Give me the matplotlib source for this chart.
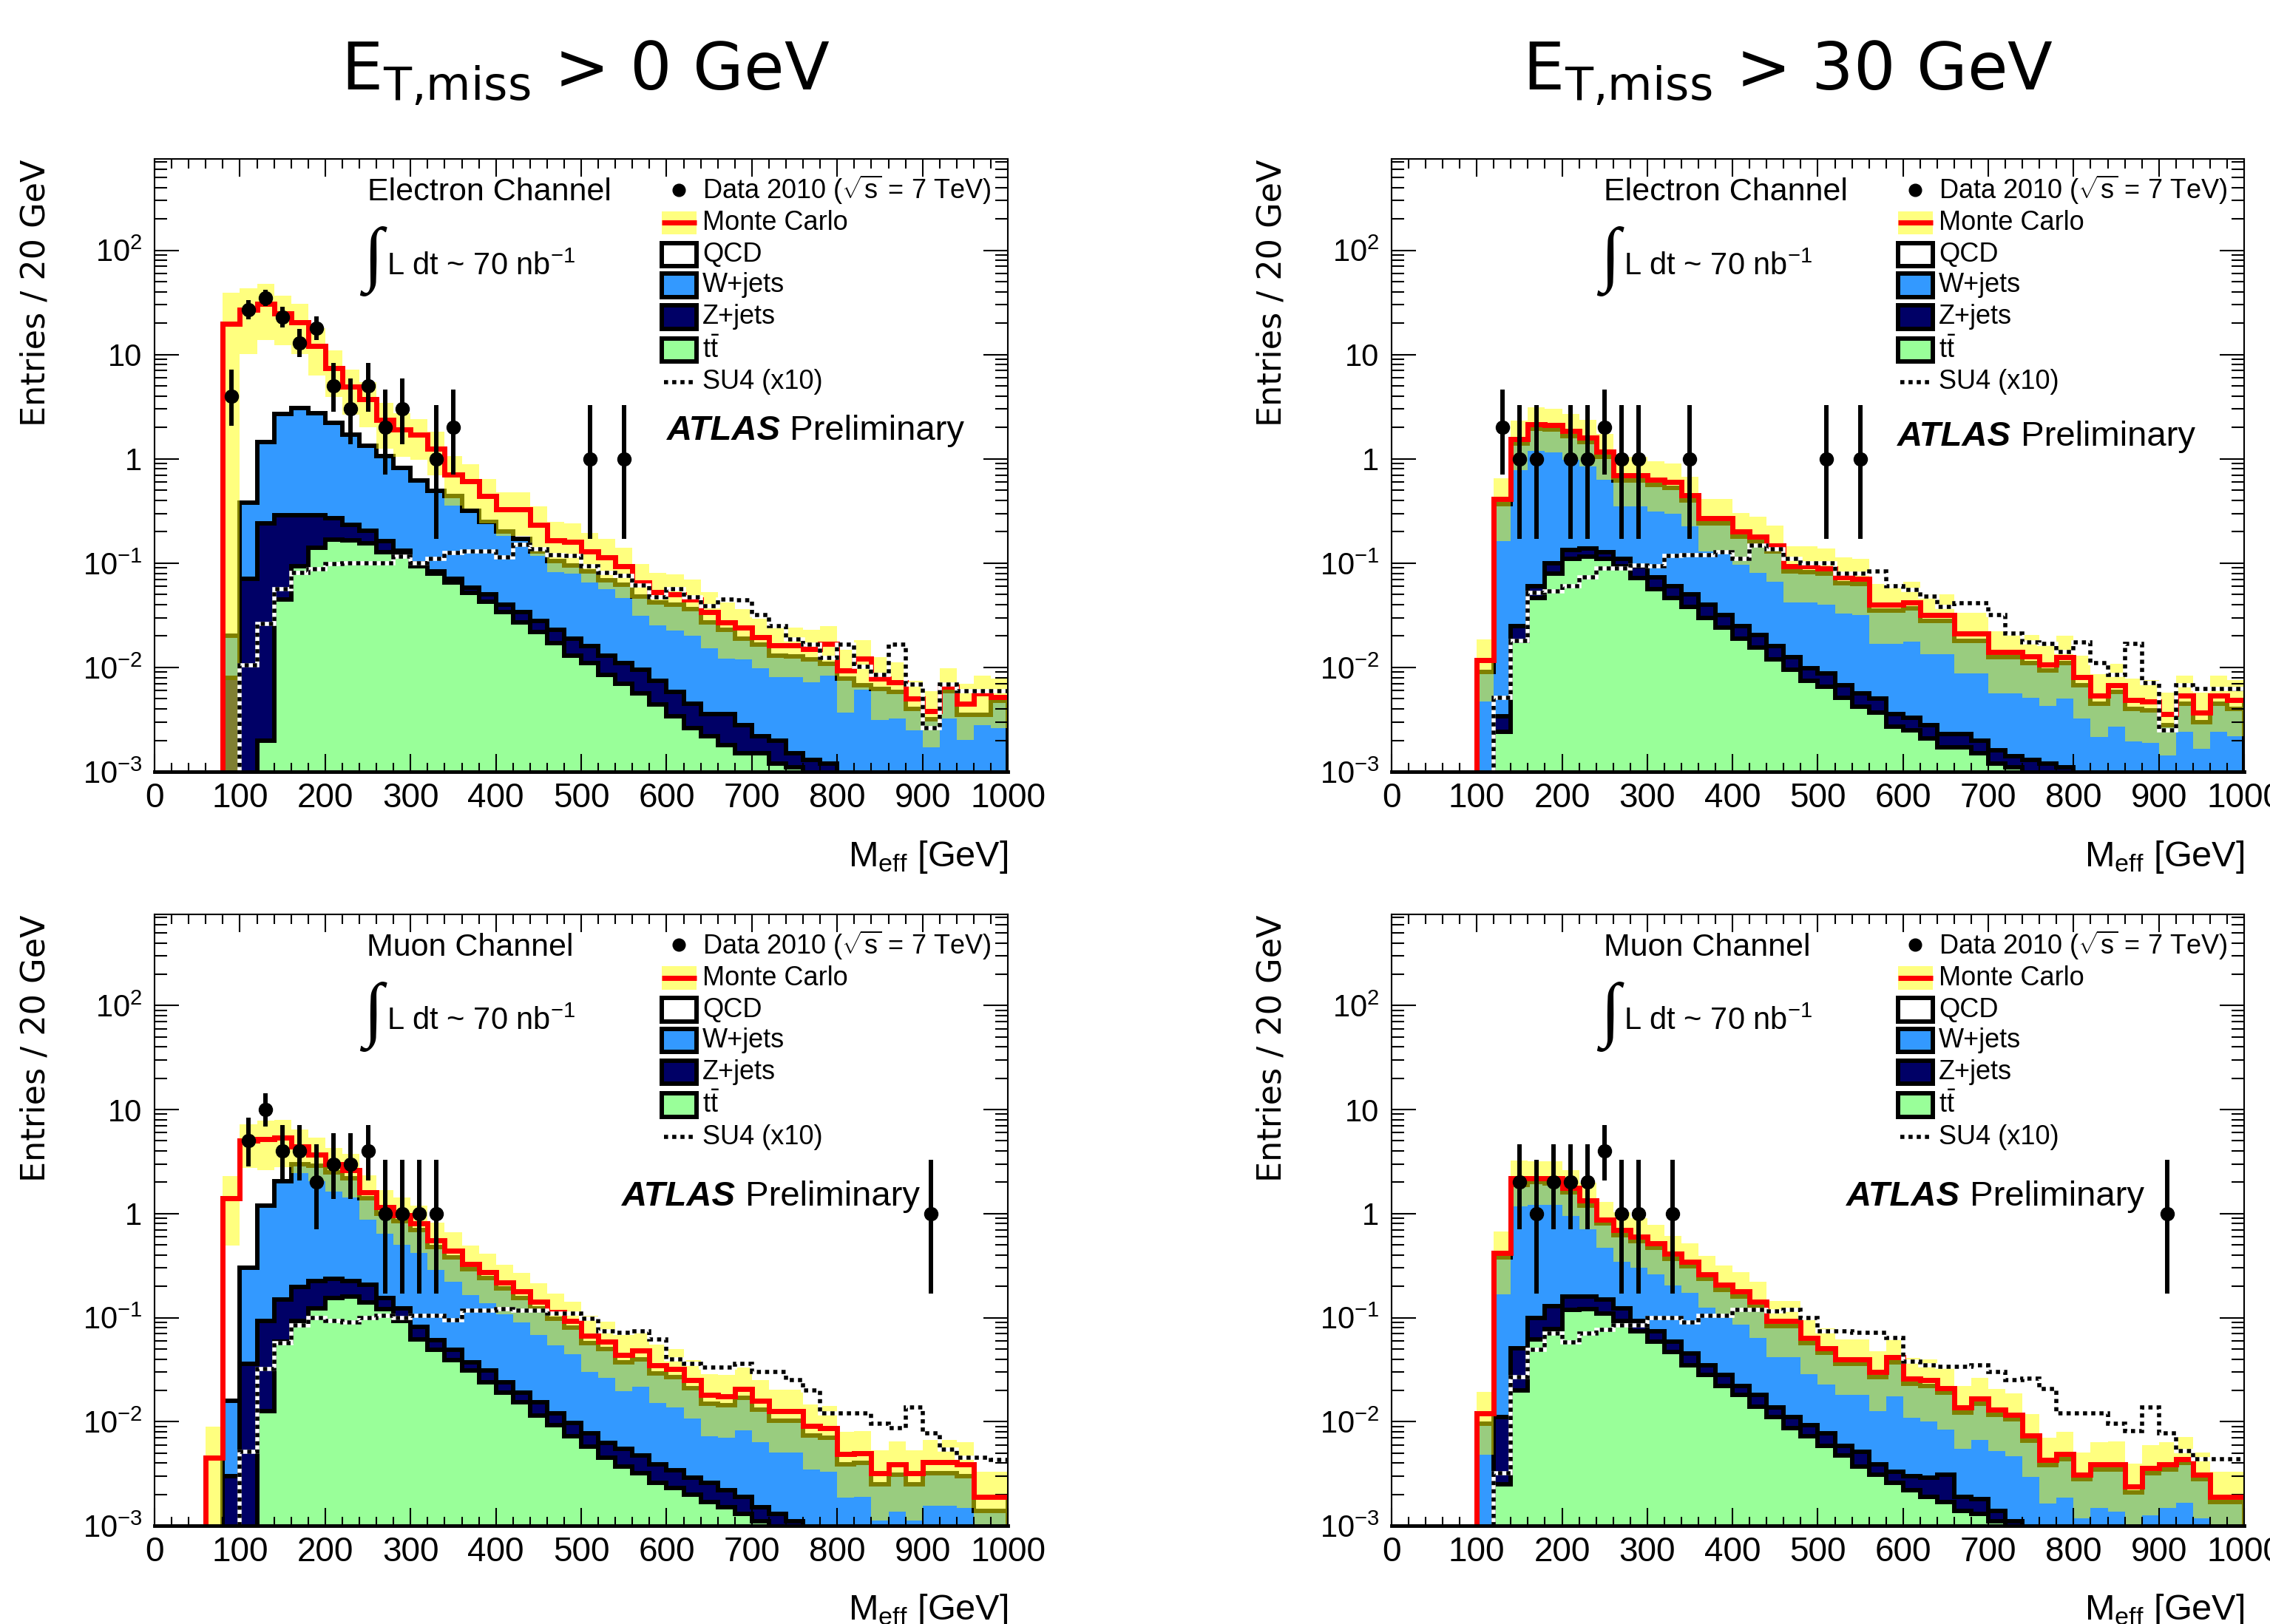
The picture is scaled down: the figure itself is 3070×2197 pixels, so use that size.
import numpy as np
import matplotlib
matplotlib.use("Agg")
import matplotlib.pyplot as plt
from matplotlib import font_manager
from matplotlib.patches import Rectangle
from matplotlib.ticker import FixedLocator, LogLocator, MultipleLocator, NullFormatter

# 20 GeV bins, 0 - 1000 GeV
edges = np.arange(0, 1001, 20)

# ---------------- Electron channel, MET > 0 ----------------
tot_e0 = [0, 0, 0, 0, 19.7, 26.7, 30.6, 24.6, 20.3, 12.1,
          7.4, 4.9, 3.75, 2.36, 1.9, 1.7, 1.26, 0.71, 0.61, 0.44,
          0.33, 0.33, 0.234, 0.165, 0.16, 0.13, 0.113, 0.093, 0.065, 0.053,
          0.05, 0.045, 0.034, 0.027, 0.024, 0.0196, 0.0162, 0.0162, 0.015, 0.0167,
          0.0093, 0.0122, 0.0078, 0.0072, 0.005, 0.0038, 0.0065, 0.0045, 0.0056, 0.0052]
w_e0 = [0, 0, 0, 0, 0.02, 0.38, 1.45, 2.7, 3.07, 2.75,
        2.2, 1.7, 1.33, 1.07, 0.82, 0.62, 0.49, 0.44, 0.32, 0.25,
        0.2, 0.17, 0.13, 0.105, 0.095, 0.083, 0.068, 0.062, 0.048, 0.042,
        0.04, 0.036, 0.027, 0.023, 0.019, 0.0166, 0.013, 0.0128, 0.012, 0.0108,
        0.0078, 0.0068, 0.0062, 0.0058, 0.004, 0.0032, 0.0059, 0.0035, 0.0035, 0.0048]
z_e0 = [0, 0, 0, 0, 0.008, 0.071, 0.24, 0.29, 0.29, 0.287,
        0.268, 0.234, 0.205, 0.164, 0.132, 0.1, 0.083, 0.071, 0.058, 0.05,
        0.04, 0.034, 0.028, 0.023, 0.019, 0.016, 0.013, 0.011, 0.0095, 0.0075,
        0.0058, 0.0045, 0.0036, 0.0036, 0.0028, 0.0022, 0.002, 0.0015, 0.0013, 0.0012,
        0, 0, 0, 0, 0, 0, 0, 0, 0, 0]
tt_e0 = [0, 0, 0, 0, 0, 0, 0.002, 0.045, 0.093, 0.14,
         0.169, 0.165, 0.155, 0.128, 0.122, 0.093, 0.079, 0.065, 0.052, 0.043,
         0.034, 0.027, 0.022, 0.017, 0.013, 0.011, 0.0085, 0.007, 0.0056, 0.0044,
         0.0034, 0.0026, 0.0022, 0.0018, 0.0015, 0.0015, 0.0012, 0.0011, 0, 0,
         0, 0, 0, 0, 0, 0, 0, 0, 0, 0]
su4_e0 = [0, 0, 0, 0, 0, 0.0105, 0.026, 0.056, 0.081, 0.087,
          0.098, 0.1, 0.1, 0.1, 0.115, 0.1, 0.11, 0.126, 0.13, 0.13,
          0.114, 0.15, 0.135, 0.12, 0.117, 0.093, 0.081, 0.075, 0.061, 0.047,
          0.056, 0.047, 0.039, 0.045, 0.044, 0.032, 0.025, 0.0186, 0.0166, 0.0123,
          0.0166, 0.0102, 0.0085, 0.0166, 0.0069, 0.0026, 0.0069, 0.0059, 0.0059, 0.0059]
err_e0 = [0, 0, 0, 0, 1.0, 0.62, 0.55, 0.5, 0.5, 0.48,
          0.47, 0.46, 0.46, 0.47, 0.45, 0.42, 0.45, 0.5, 0.45, 0.45,
          0.45, 0.45, 0.5, 0.5, 0.5, 0.5, 0.5, 0.5, 0.52, 0.52,
          0.55, 0.55, 0.55, 0.55, 0.5, 0.5, 0.5, 0.5, 0.52, 0.5,
          0.6, 0.5, 0.6, 0.55, 0.5, 0.55, 0.5, 0.55, 0.5, 0.5]
data_bins_e0 = [4, 5, 6, 7, 8, 9, 10, 11, 12, 13, 14, 16, 17, 25, 27]
data_n_e0 = [4, 27, 35, 23, 13, 18, 5, 3, 5, 2, 3, 1, 2, 1, 1]

# ---------------- Electron channel, MET > 30 ----------------
tot_e30 = [0, 0, 0, 0, 0, 0.0117, 0.41, 1.55, 2.15, 2.1,
           1.84, 1.6, 1.18, 0.7, 0.7, 0.63, 0.6, 0.45, 0.27, 0.27,
           0.2, 0.18, 0.148, 0.093, 0.093, 0.089, 0.073, 0.071, 0.04, 0.04,
           0.042, 0.032, 0.032, 0.021, 0.021, 0.014, 0.014, 0.0128, 0.0107, 0.0126,
           0.0081, 0.0054, 0.0068, 0.0049, 0.0047, 0.0036, 0.0054, 0.0037, 0.0054, 0.0049]
w_e30 = [0, 0, 0, 0, 0, 0.009, 0.37, 1.4, 1.95, 1.9,
         1.65, 1.45, 1.05, 0.62, 0.62, 0.56, 0.53, 0.4, 0.24, 0.24,
         0.18, 0.16, 0.13, 0.083, 0.082, 0.079, 0.064, 0.063, 0.035, 0.035,
         0.037, 0.028, 0.028, 0.018, 0.018, 0.0125, 0.0125, 0.011, 0.0093, 0.011,
         0.0068, 0.0045, 0.0058, 0.004, 0.0039, 0.0028, 0.0045, 0.003, 0.0045, 0.004]
z_e30 = [0, 0, 0, 0, 0, 0, 0.0034, 0.025, 0.06, 0.1,
         0.134, 0.138, 0.128, 0.11, 0.093, 0.073, 0.06, 0.05, 0.04, 0.032,
         0.025, 0.0205, 0.016, 0.0125, 0.0099, 0.0087, 0.0068, 0.0056, 0.005, 0.0036,
         0.0033, 0.0028, 0.0023, 0.0023, 0.002, 0.0016, 0.0014, 0.0013, 0.0012, 0.0011,
         0, 0, 0, 0, 0, 0, 0, 0, 0, 0]
tt_e30 = [0, 0, 0, 0, 0, 0, 0.0024, 0.018, 0.046, 0.08,
          0.11, 0.115, 0.11, 0.093, 0.072, 0.056, 0.046, 0.038, 0.03, 0.024,
          0.019, 0.0155, 0.012, 0.0095, 0.0075, 0.0065, 0.0051, 0.0042, 0.0037, 0.0027,
          0.0025, 0.0021, 0.0017, 0.0017, 0.0015, 0.0012, 0.0011, 0, 0, 0,
          0, 0, 0, 0, 0, 0, 0, 0, 0, 0]
su4_e30 = [0, 0, 0, 0, 0, 0, 0.0051, 0.018, 0.052, 0.054,
           0.06, 0.073, 0.089, 0.089, 0.095, 0.093, 0.117, 0.12, 0.12, 0.128,
           0.11, 0.148, 0.135, 0.11, 0.1, 0.1, 0.08, 0.08, 0.083, 0.06,
           0.055, 0.048, 0.038, 0.041, 0.041, 0.032, 0.021, 0.0175, 0.0167, 0.014,
           0.0175, 0.011, 0.0085, 0.0167, 0.0071, 0.0025, 0.0068, 0.0062, 0.0062, 0.0062]
err_e30 = [0, 0, 0, 0, 0, 0.6, 0.6, 0.5, 0.45, 0.45,
           0.47, 0.47, 0.47, 0.5, 0.5, 0.5, 0.5, 0.5, 0.52, 0.52,
           0.52, 0.55, 0.55, 0.55, 0.55, 0.55, 0.55, 0.55, 0.58, 0.58,
           0.58, 0.58, 0.58, 0.58, 0.58, 0.6, 0.6, 0.6, 0.6, 0.6,
           0.6, 0.6, 0.6, 0.6, 0.6, 0.6, 0.55, 0.55, 0.55, 0.55]
data_bins_e30 = [6, 7, 8, 10, 11, 12, 13, 14, 17, 25, 27]
data_n_e30 = [2, 1, 1, 1, 1, 2, 1, 1, 1, 1, 1]

# ---------------- Muon channel, MET > 0 ----------------
tot_m0 = [0, 0, 0, 0.0045, 1.4, 5.0, 5.2, 5.4, 4.45, 3.7,
          2.97, 2.6, 1.6, 1.16, 0.96, 0.8, 0.55, 0.44, 0.33, 0.275,
          0.216, 0.18, 0.142, 0.113, 0.093, 0.067, 0.059, 0.044, 0.048, 0.035,
          0.032, 0.025, 0.018, 0.0175, 0.0208, 0.0158, 0.0126, 0.0126, 0.0091, 0.0087,
          0.0049, 0.005, 0.0032, 0.0039, 0.0032, 0.0041, 0.0041, 0.0039, 0.0019, 0.0019]
w_m0 = [0, 0, 0, 0, 0.016, 0.3, 1.2, 2.05, 3.0, 2.9,
        2.5, 2.2, 1.4, 1.0, 0.84, 0.7, 0.48, 0.38, 0.29, 0.24,
        0.19, 0.155, 0.123, 0.097, 0.08, 0.057, 0.05, 0.037, 0.04, 0.029,
        0.027, 0.021, 0.015, 0.0145, 0.017, 0.013, 0.0103, 0.0103, 0.0074, 0.007,
        0.0039, 0.004, 0.0025, 0.0031, 0.0025, 0.0032, 0.0032, 0.003, 0.0014, 0.0014]
z_m0 = [0, 0, 0, 0, 0.003, 0.036, 0.093, 0.15, 0.197, 0.226,
        0.237, 0.226, 0.206, 0.155, 0.123, 0.081, 0.061, 0.049, 0.037, 0.031,
        0.024, 0.019, 0.0153, 0.012, 0.0097, 0.0077, 0.0063, 0.0055, 0.0047, 0.0039,
        0.0034, 0.0029, 0.0026, 0.0022, 0.0019, 0.0015, 0.0013, 0.0011, 0, 0,
        0, 0, 0, 0, 0, 0, 0, 0, 0, 0]
tt_m0 = [0, 0, 0, 0, 0, 0, 0.0126, 0.059, 0.093, 0.123,
         0.155, 0.16, 0.14, 0.12, 0.093, 0.062, 0.049, 0.039, 0.031, 0.024,
         0.019, 0.0153, 0.0114, 0.0093, 0.0072, 0.0058, 0.0045, 0.0037, 0.0032, 0.0026,
         0.0023, 0.002, 0.0017, 0.0015, 0.0013, 0.0011, 0, 0, 0, 0,
         0, 0, 0, 0, 0, 0, 0, 0, 0, 0]
su4_m0 = [0, 0, 0, 0, 0, 0.0051, 0.032, 0.057, 0.085, 0.1,
          0.093, 0.09, 0.1, 0.105, 0.1, 0.105, 0.105, 0.094, 0.117, 0.117,
          0.12, 0.117, 0.117, 0.11, 0.11, 0.097, 0.074, 0.072, 0.074, 0.062,
          0.04, 0.036, 0.033, 0.033, 0.036, 0.03, 0.03, 0.025, 0.0199, 0.012,
          0.012, 0.012, 0.0095, 0.0087, 0.0137, 0.0078, 0.0054, 0.0045, 0.0045, 0.0043]
err_m0 = [0, 0, 0, 1.0, 0.65, 0.45, 0.5, 0.48, 0.45, 0.45,
          0.45, 0.45, 0.45, 0.45, 0.48, 0.48, 0.48, 0.5, 0.5, 0.5,
          0.5, 0.5, 0.52, 0.52, 0.52, 0.55, 0.55, 0.55, 0.55, 0.57,
          0.57, 0.57, 0.6, 0.6, 0.6, 0.6, 0.6, 0.6, 0.62, 0.62,
          0.62, 0.62, 0.65, 0.65, 0.65, 0.62, 0.62, 0.62, 0.75, 0.75]
data_bins_m0 = [5, 6, 7, 8, 9, 10, 11, 12, 13, 14, 15, 16, 45]
data_n_m0 = [5, 10, 4, 4, 2, 3, 3, 4, 1, 1, 1, 1, 1]

# ---------------- Muon channel, MET > 30 ----------------
tot_m30 = [0, 0, 0, 0, 0, 0.012, 0.42, 2.2, 2.2, 2.2,
           1.78, 1.34, 0.88, 0.69, 0.6, 0.52, 0.41, 0.345, 0.26, 0.207,
           0.18, 0.142, 0.093, 0.093, 0.064, 0.051, 0.04, 0.04, 0.03, 0.042,
           0.026, 0.025, 0.021, 0.0137, 0.0166, 0.013, 0.0117, 0.0074, 0.0043, 0.0049,
           0.0031, 0.0039, 0.0039, 0.0024, 0.0036, 0.0039, 0.0044, 0.0031, 0.0019, 0.0019]
w_m30 = [0, 0, 0, 0, 0, 0.0095, 0.38, 1.9, 2.0, 1.95,
         1.6, 1.2, 0.8, 0.62, 0.54, 0.47, 0.37, 0.31, 0.235, 0.185,
         0.16, 0.127, 0.083, 0.083, 0.057, 0.046, 0.036, 0.036, 0.027, 0.037,
         0.023, 0.022, 0.019, 0.0122, 0.015, 0.0116, 0.0105, 0.0066, 0.0038, 0.0044,
         0.0028, 0.0035, 0.0035, 0.0021, 0.0032, 0.0035, 0.004, 0.0028, 0.0017, 0.0017]
z_m30 = [0, 0, 0, 0, 0, 0, 0.011, 0.051, 0.1, 0.13,
         0.16, 0.16, 0.15, 0.123, 0.093, 0.074, 0.059, 0.045, 0.035, 0.028,
         0.022, 0.018, 0.0138, 0.011, 0.0093, 0.0077, 0.0059, 0.0051, 0.0039, 0.0033,
         0.003, 0.0029, 0.0031, 0.0019, 0.0018, 0.0014, 0.0011, 0, 0, 0,
         0, 0, 0, 0, 0, 0, 0, 0, 0, 0]
tt_m30 = [0, 0, 0, 0, 0, 0, 0.0025, 0.02, 0.062, 0.078,
          0.118, 0.12, 0.11, 0.093, 0.074, 0.059, 0.047, 0.035, 0.028, 0.022,
          0.018, 0.014, 0.011, 0.0087, 0.0072, 0.0059, 0.0047, 0.0037, 0.0031, 0.0026,
          0.0022, 0.0019, 0.0017, 0.0014, 0.0013, 0.0011, 0, 0, 0, 0,
          0, 0, 0, 0, 0, 0, 0, 0, 0, 0]
su4_m30 = [0, 0, 0, 0, 0, 0, 0.0032, 0.027, 0.049, 0.071,
           0.058, 0.07, 0.077, 0.085, 0.085, 0.1, 0.1, 0.09, 0.105, 0.105,
           0.118, 0.118, 0.115, 0.118, 0.1, 0.074, 0.074, 0.072, 0.072, 0.064,
           0.038, 0.035, 0.034, 0.034, 0.035, 0.03, 0.025, 0.026, 0.0206, 0.012,
           0.012, 0.012, 0.0095, 0.0081, 0.0137, 0.0078, 0.0052, 0.0044, 0.0044, 0.0044]
err_m30 = [0, 0, 0, 0, 0, 0.6, 0.6, 0.47, 0.45, 0.45,
           0.47, 0.47, 0.47, 0.5, 0.5, 0.5, 0.5, 0.5, 0.52, 0.52,
           0.52, 0.55, 0.55, 0.55, 0.55, 0.55, 0.55, 0.55, 0.58, 0.58,
           0.58, 0.6, 0.6, 0.6, 0.6, 0.6, 0.6, 0.6, 0.62, 0.62,
           0.62, 0.62, 0.65, 0.65, 0.65, 0.62, 0.62, 0.62, 0.75, 0.75]
data_bins_m30 = [7, 8, 9, 10, 11, 12, 13, 14, 16, 45]
data_n_m30 = [2, 1, 2, 2, 2, 4, 1, 1, 1, 1]

titles = [r"$\mathsf{E_{T{,}miss}}$ > 0 GeV", r"$\mathsf{E_{T{,}miss}}$ > 30 GeV"]
legend_labels = [r"Data 2010 ($\sqrt{\mathregular{s}}$ = 7 TeV)", "Monte Carlo", "QCD",
                 "W+jets", "Z+jets", r"$\mathregular{t\bar{t}}$", "SU4 (x10)"]

C_W = "#3399ff"
C_Z = "#000066"
C_TT = "#99ff99"
C_BAND = (1.0, 1.0, 0.0)

names = {f.name for f in font_manager.fontManager.ttflist}
SANS = "Liberation Sans" if "Liberation Sans" in names else "DejaVu Sans"
SERIF = "Liberation Serif" if "Liberation Serif" in names else "DejaVu Serif"
plt.rcParams["font.family"] = [SANS, "DejaVu Sans"]
plt.rcParams["mathtext.fontset"] = "custom"
plt.rcParams["mathtext.rm"] = SANS
plt.rcParams["mathtext.it"] = SANS + ":italic"
plt.rcParams["mathtext.bf"] = SANS + ":bold"
plt.rcParams["mathtext.sf"] = "DejaVu Sans"

TINY = 1e-6
OLW = 4.3     # black outline of the stacked histograms
RLW = 5.0     # red MC total


def pos(v):
    return np.maximum(np.asarray(v, dtype=float), TINY)


def poisson_interval(n):
    n = np.asarray(n, dtype=float)
    lo = n * (1 - 1 / (9 * n) - 1 / (3 * np.sqrt(n))) ** 3
    m = n + 1
    hi = m * (1 - 1 / (9 * m) + 1 / (3 * np.sqrt(m))) ** 3
    return lo, hi


def draw_legend(ax):
    rows = [0.950, 0.896, 0.844, 0.794, 0.742, 0.688, 0.636]
    x0, w, h = 0.594, 0.041, 0.038
    tx = 0.642
    tr = ax.transAxes
    ax.plot([0.614], [rows[0]], "o", color="black", ms=12, transform=tr, clip_on=False)
    ax.add_patch(Rectangle((x0, rows[1] - h / 2), w, h, transform=tr, facecolor=C_BAND,
                           alpha=0.5, lw=0))
    ax.plot([x0, x0 + w], [rows[1], rows[1]], color="red", lw=RLW, transform=tr,
            solid_capstyle="butt")
    for r, fc in zip(rows[2:6], ["white", C_W, C_Z, C_TT]):
        ax.add_patch(Rectangle((x0, r - h / 2), w, h, transform=tr, facecolor=fc,
                               edgecolor="black", lw=OLW))
    ax.plot([x0 + 0.003, x0 + w - 0.003], [rows[6], rows[6]], color="black", lw=4.0,
            ls=(0, (1, 1)), transform=tr)
    for r, lab in zip(rows, legend_labels):
        ax.text(tx, r, lab, transform=tr, fontsize=26, va="center", ha="left")


def draw_panel(ax, channel, total, wjets, zjets, ttbar, err, su4, dbins, dn, atlas_xy):
    ax.set_yscale("log")
    tot = np.asarray(total, dtype=float)
    e = np.asarray(err, dtype=float)
    ax.stairs(pos(tot), edges, baseline=TINY, fill=True, facecolor="white",
              edgecolor="black", lw=OLW, zorder=1)
    ax.stairs(pos(wjets), edges, baseline=TINY, fill=True, facecolor=C_W,
              edgecolor="black", lw=OLW, zorder=1.1)
    ax.stairs(pos(zjets), edges, baseline=TINY, fill=True, facecolor=C_Z,
              edgecolor="black", lw=OLW, zorder=1.2)
    ax.stairs(pos(ttbar), edges, baseline=TINY, fill=True, facecolor=C_TT,
              edgecolor="black", lw=OLW, zorder=1.3)
    # MC uncertainty band
    ax.stairs(pos(tot * (1 + e)), edges, baseline=pos(tot * (1 - e)), fill=True,
              facecolor=C_BAND, alpha=0.5, lw=0, zorder=1.5)
    ax.stairs(pos(tot), edges, baseline=None, color="red", lw=RLW, zorder=1.6)
    # SU4 signal, black/white dotted
    ax.stairs(pos(su4), edges, baseline=None, color="white", lw=4.0, zorder=1.7)
    ax.stairs(pos(su4), edges, baseline=None, color="black", lw=4.0, ls=(0, (1, 1)),
              zorder=1.8)
    # data
    x = (edges[:-1] + 10)[dbins]
    n = np.asarray(dn, dtype=float)
    lo, hi = poisson_interval(n)
    ax.errorbar(x, n, yerr=[n - lo, hi - n], fmt="o", color="black", ms=13,
                elinewidth=4.3, capsize=0, zorder=5)

    ax.set_xlim(0, 1000)
    ax.set_ylim(1e-3, 750)
    ax.xaxis.set_major_locator(MultipleLocator(100))
    ax.xaxis.set_minor_locator(MultipleLocator(20))
    ax.yaxis.set_major_locator(FixedLocator([1e-3, 1e-2, 1e-1, 1, 10, 100]))
    ax.set_yticklabels([r"$\mathregular{10^{-3}}$", r"$\mathregular{10^{-2}}$",
                        r"$\mathregular{10^{-1}}$", "1", "10", r"$\mathregular{10^{2}}$"])
    ax.yaxis.set_minor_locator(LogLocator(base=10, subs=np.arange(2, 10), numticks=20))
    ax.yaxis.set_minor_formatter(NullFormatter())
    ax.tick_params(which="both", direction="in", top=True, right=True, width=1.5)
    ax.tick_params(axis="x", which="major", length=17, labelsize=33, pad=10)
    ax.tick_params(axis="x", which="minor", length=9)
    ax.tick_params(axis="y", which="major", length=24, labelsize=30, pad=12)
    ax.tick_params(axis="y", which="minor", length=12)
    for s in ax.spines.values():
        s.set_linewidth(1.5)
    ax.spines["bottom"].set_linewidth(3.5)

    ax.text(1.0, -0.154, r"M$_{\mathregular{eff}}$ [GeV]", transform=ax.transAxes,
            ha="right", va="baseline", fontsize=35)
    ax.text(-0.140, 1.0, "Entries / 20 GeV", transform=ax.transAxes, rotation=90,
            ha="center", va="top", fontsize=32, family="DejaVu Sans")

    cx = 0.392 if channel.startswith("Electron") else 0.37
    ax.text(cx, 0.946, channel, transform=ax.transAxes, ha="center", va="center",
            fontsize=31)
    ax.text(0.256, 0.833, "\u222b", transform=ax.transAxes, ha="center", va="center",
            fontsize=70, family=[SERIF, "DejaVu Sans"])
    ax.text(0.272, 0.811, r"L dt ~ 70 nb$^{\mathregular{-1}}$", transform=ax.transAxes,
            ha="left", va="baseline", fontsize=30)
    t = ax.text(atlas_xy[0], atlas_xy[1], "ATLAS", transform=ax.transAxes, ha="left",
                va="center", fontsize=34, fontweight="bold", fontstyle="italic")
    ax.annotate(" Preliminary", xy=(1, 0), xycoords=t, ha="left", va="bottom",
                fontsize=34)
    draw_legend(ax)


fig = plt.figure(figsize=(30.70, 21.97), dpi=100)
ax_tl = fig.add_axes([0.0681, 0.5248, 0.3759, 0.3773])
ax_tr = fig.add_axes([0.6130, 0.5248, 0.3756, 0.3773])
ax_bl = fig.add_axes([0.0681, 0.0605, 0.3759, 0.3764])
ax_br = fig.add_axes([0.6130, 0.0605, 0.3756, 0.3764])

draw_panel(ax_tl, "Electron Channel", tot_e0, w_e0, z_e0, tt_e0, err_e0, su4_e0,
           data_bins_e0, data_n_e0, (0.600, 0.556))
draw_panel(ax_tr, "Electron Channel", tot_e30, w_e30, z_e30, tt_e30, err_e30, su4_e30,
           data_bins_e30, data_n_e30, (0.593, 0.546))
draw_panel(ax_bl, "Muon Channel", tot_m0, w_m0, z_m0, tt_m0, err_m0, su4_m0,
           data_bins_m0, data_n_m0, (0.548, 0.538))
draw_panel(ax_br, "Muon Channel", tot_m30, w_m30, z_m30, tt_m30, err_m30, su4_m30,
           data_bins_m30, data_n_m30, (0.533, 0.538))

fig.text(0.258, 0.945, titles[0], ha="center", va="baseline", fontsize=64,
         family="DejaVu Sans")
fig.text(0.7876, 0.945, titles[1], ha="center", va="baseline", fontsize=64,
         family="DejaVu Sans")

fig.savefig("out.png", dpi=100)
